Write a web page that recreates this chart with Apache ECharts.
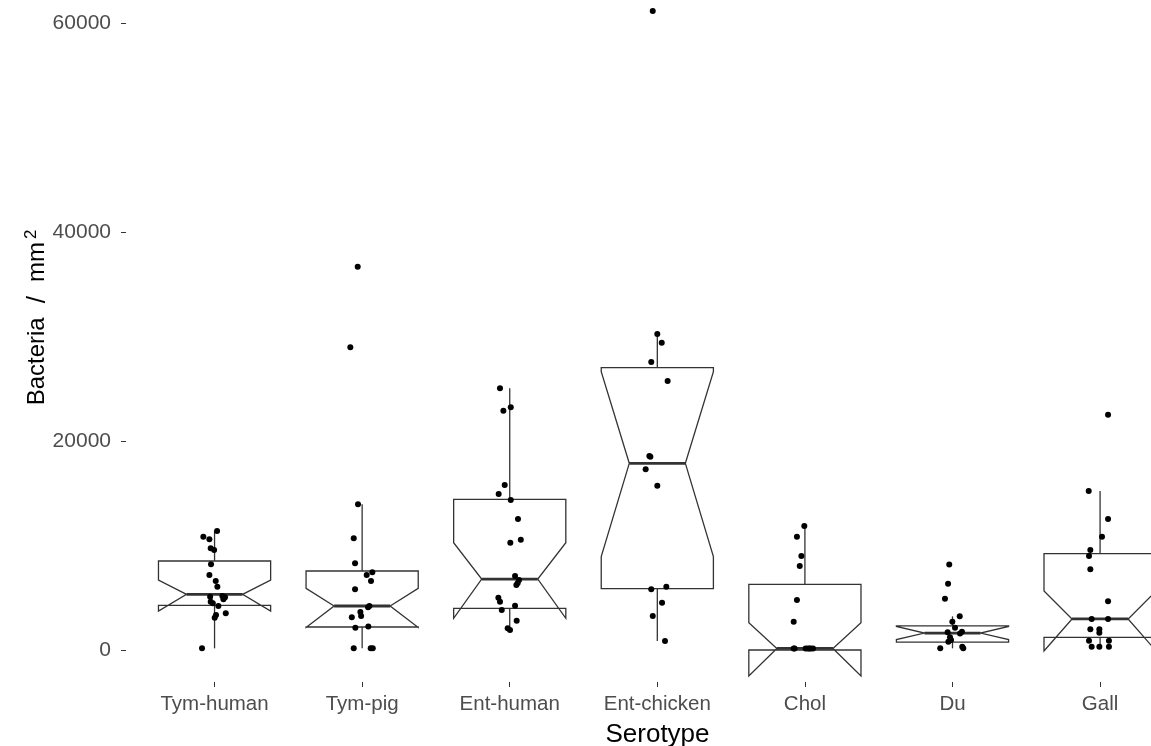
<!DOCTYPE html>
<html>
<head>
<meta charset="utf-8">
<script src="https://cdn.jsdelivr.net/npm/echarts@6/dist/echarts.min.js"></script>
<style>
html,body{margin:0;padding:0;background:#fff;}
#chart{width:1151px;height:746px;}
</style>
</head>
<body>
<div id="chart"></div>
<script>
// ---- data ----
var categories = ['Tym-human', 'Tym-pig', 'Ent-human', 'Ent-chicken', 'Chol', 'Du', 'Gall'];
var categoryIndex = [0, 1, 2, 3, 4, 5, 6];
var yTicks = [0, 20000, 40000, 60000];

// box statistics per category
var whiskerLow  = [160, 160, 1910, 860, 0, 160, 160];
var q1          = [4275, 2200, 3990, 5870, 0, 750, 1210];
var notchLow    = [3730, 2150, 3030, 8930, -2490, 1000, -100];
var median      = [5330, 4210, 6790, 17860, 150, 1620, 2970];
var notchHigh   = [6700, 5900, 10270, 26640, 2610, 2250, 5650];
var q3          = [8517, 7560, 14420, 27020, 6280, 2300, 9220];
var whiskerHigh = [11390, 13940, 25040, 30310, 11870, 3220, 15220];

// jittered observations (values) and their horizontal jitter (fraction of a category step)
var tymHuman = [11390, 10840, 10590, 9730, 9570, 8200, 7180, 6600, 6060, 5100, 5170, 5040, 4850, 4620, 4470, 4210, 3510, 3350, 3090, 160];
var tymHumanJit = [0.017, -0.076, -0.035, -0.026, -0.003, -0.024, -0.035, 0.008, 0.019, -0.030, 0.053, 0.071, 0.060, -0.026, -0.012, 0.026, 0.076, 0.010, 0.001, -0.085];
var tymPig = [36680, 28970, 13940, 10690, 8300, 7440, 7180, 6600, 5810, 4210, 4090, 3640, 3250, 3130, 2260, 2130, 160, 160, 160];
var tymPigJit = [-0.030, -0.080, -0.028, -0.057, -0.048, 0.069, 0.031, 0.060, -0.048, 0.049, 0.040, -0.012, -0.007, -0.070, 0.042, -0.046, -0.057, 0.058, 0.072];
var entHuman = [25040, 22900, 23220, 15790, 14930, 14360, 12540, 10270, 10560, 7080, 6700, 6410, 6220, 5010, 4620, 3830, 4240, 2800, 2070, 1910];
var entHumanJit = [-0.066, -0.043, 0.007, -0.034, -0.075, 0.007, 0.056, 0.004, 0.075, 0.036, 0.063, 0.054, 0.045, -0.077, -0.066, -0.054, 0.036, 0.047, -0.014, 0.002];
var entChicken = [61150, 30240, 29410, 27560, 25740, 18570, 18500, 17290, 15720, 5810, 6060, 4530, 3250, 860];
var entChickenJit = [-0.031, 0.000, 0.030, -0.041, 0.070, -0.054, -0.047, -0.079, 0.000, -0.041, 0.061, 0.032, -0.031, 0.052];
var chol = [11870, 10840, 9000, 8040, 4790, 2710, 150, 150, 150, 150, 150, 150, 150];
var cholJit = [-0.004, -0.054, -0.024, -0.035, -0.054, -0.076, -0.076, -0.070, 0.005, 0.020, 0.030, 0.040, 0.055];
var du = [8170, 6350, 4910, 3220, 2710, 2130, 1690, 1750, 1590, 1210, 960, 800, 160, 320, 160];
var duJit = [-0.022, -0.030, -0.051, 0.049, -0.001, 0.017, -0.033, 0.064, 0.051, -0.017, -0.010, -0.028, -0.083, 0.066, 0.073];
var gall = [22520, 15220, 12540, 10840, 9570, 9000, 7720, 4660, 2970, 2970, 1980, 1980, 1660, 890, 890, 320, 320, 320];
var gallJit = [0.054, -0.077, 0.054, 0.013, -0.066, -0.075, -0.066, 0.054, -0.057, 0.054, -0.066, -0.005, -0.005, -0.075, 0.060, -0.057, -0.005, 0.060];

var pointValues = [tymHuman, tymPig, entHuman, entChicken, chol, du, gall];
var pointJitter = [tymHumanJit, tymPigJit, entHumanJit, entChickenJit, cholJit, duJit, gallJit];

// ---- build series data ----
var boxData = categoryIndex.map(function (i) {
  return [i, whiskerLow[i], q1[i], notchLow[i], median[i], notchHigh[i], q3[i], whiskerHigh[i]];
});
var pointData = [];
pointValues.forEach(function (vals, i) {
  vals.forEach(function (v, k) {
    pointData.push([categoryIndex[i] + pointJitter[i][k], v]);
  });
});

var LINE = '#333333';
var FONT = 'Liberation Sans, Arial, sans-serif';

function renderBox(params, api) {
  var idx = api.value(0);
  var y = function (v) { return api.coord([idx, v])[1]; };
  var cx = api.coord([idx, api.value(4)])[0];
  var bw = api.size([1, 0])[0] * 0.76;
  var x0 = cx - bw / 2, x1 = cx + bw / 2, ind = bw / 4;
  var wl = api.value(1), b1 = api.value(2), nl = api.value(3), md = api.value(4),
      nu = api.value(5), b3 = api.value(6), wh = api.value(7);
  return {
    type: 'group',
    children: [
      { type: 'line', shape: { x1: cx, y1: y(b3), x2: cx, y2: y(wh) }, style: { stroke: LINE, lineWidth: 1.3 } },
      { type: 'line', shape: { x1: cx, y1: y(b1), x2: cx, y2: y(wl) }, style: { stroke: LINE, lineWidth: 1.3 } },
      { type: 'polygon', shape: { points: [
          [x0, y(b3)], [x0, y(nu)], [x0 + ind, y(md)], [x0, y(nl)], [x0, y(b1)],
          [x1, y(b1)], [x1, y(nl)], [x1 - ind, y(md)], [x1, y(nu)], [x1, y(b3)]
        ] }, style: { fill: '#ffffff', stroke: LINE, lineWidth: 1.3 } },
      { type: 'line', shape: { x1: x0 + ind, y1: y(md), x2: x1 - ind, y2: y(md) }, style: { stroke: LINE, lineWidth: 2.8 } }
    ]
  };
}

var chart = echarts.init(document.getElementById('chart'), null, { renderer: 'canvas' });
chart.setOption({
  animation: false,
  backgroundColor: '#ffffff',
  grid: { left: 126, right: 0, top: 0, height: 682, outerBoundsMode: 'none', containLabel: false },
  xAxis: {
    type: 'value',
    min: -0.6,
    max: 6.345,
    axisLine: { show: false, onZero: false },
    splitLine: { show: false },
    axisTick: { show: true, length: 5, customValues: categoryIndex, lineStyle: { color: LINE, width: 1 } },
    axisLabel: {
      customValues: categoryIndex, margin: 12, color: '#4d4d4d', fontSize: 20.5, fontFamily: FONT,
      formatter: function (v) { return categories[Math.round(v)]; }
    },
    name: 'Serotype',
    nameLocation: 'middle',
    nameGap: 40,
    nameMoveOverlap: false,
    nameTextStyle: { color: '#000', fontSize: 26, fontFamily: FONT, padding: [0, 0, 0, 38] }
  },
  yAxis: {
    type: 'value',
    min: -3062,
    max: 62200,
    axisLine: { show: false, onZero: false },
    splitLine: { show: false },
    axisTick: { show: true, length: 5, customValues: yTicks, lineStyle: { color: LINE, width: 1 } },
    axisLabel: {
      customValues: yTicks, margin: 15, color: '#4d4d4d', fontSize: 21, fontFamily: FONT,
      formatter: function (v) { return String(v); }
    },
    name: '{b|Bacteria}{sl|/}{b|mm}{sup|2}',
    nameLocation: 'middle',
    nameRotate: 90,
    nameGap: 74,
    nameMoveOverlap: false,
    nameTextStyle: {
      color: '#000', fontSize: 24, fontFamily: FONT,
      padding: [0, 0, 0, 47],
      rich: {
        b: { fontSize: 24, fontFamily: FONT, color: '#000' },
        sl: { fontSize: 26, fontFamily: FONT, color: '#000', padding: [0, 14, 0, 14] },
        sup: { fontSize: 17, fontFamily: FONT, color: '#000', verticalAlign: 'top', padding: [0, 0, 12, 3] }
      }
    }
  },
  series: [{
    type: 'custom',
    renderItem: renderBox,
    data: boxData,
    encode: { x: 0, y: [1, 2, 3, 4, 5, 6, 7] },
    z: 2,
    silent: true
  }, {
    type: 'scatter',
    data: pointData,
    symbol: 'circle',
    symbolSize: 6,
    itemStyle: { color: '#000000', opacity: 1 },
    z: 5,
    silent: true
  }]
});
</script>
</body>
</html>
